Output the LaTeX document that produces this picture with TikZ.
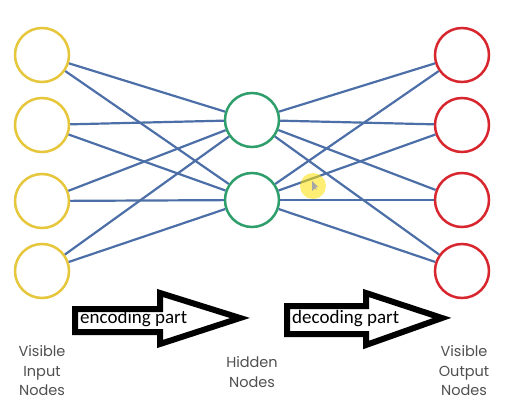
\documentclass[tikz,border=0pt]{standalone}
\usepackage{fontspec}
\newfontfamily\calib{Carlito}
\newfontfamily\labfont{Poppins}
\definecolor{inY}{HTML}{E6C63A}
\definecolor{hidG}{HTML}{2E9E6A}
\definecolor{outR}{HTML}{D8262E}
\definecolor{edgeB}{HTML}{4D6FA8}
\definecolor{labG}{HTML}{505050}
\tikzset{
  neuron/.style={circle,draw,line width=2.5pt,minimum size=54pt,inner sep=0pt,fill=white},
  innode/.style={neuron,draw=inY},
  hidnode/.style={neuron,draw=hidG},
  outnode/.style={neuron,draw=outR},
  edge/.style={draw=edgeB,line width=2.2pt},
  blockarrow/.style={draw=black,line width=6pt,fill=white,line join=miter},
  armtext/.style={font=\calib\fontsize{19}{21}\selectfont,inner sep=0pt,anchor=west},
  layerlab/.style={font=\labfont\fontsize{14.5}{19.5}\selectfont,text=labG,align=center,inner sep=1pt}
}
\begin{document}
\begin{tikzpicture}[x=1pt,y=-1pt]
\useasboundingbox (0,0) rectangle (528,401);
\fill[white] (0,0) rectangle (528,401);
\foreach \n/\y in {i1/55,i2/125,i3/201,i4/271}{\coordinate (c\n) at (42,\y);}
\foreach \n/\y in {h1/120,h2/200}{\coordinate (c\n) at (252,\y);}
\foreach \n/\y in {o1/55,o2/125,o3/200,o4/271}{\coordinate (c\n) at (462,\y);}
% nodes
\node[innode] (i1) at (ci1) {};
\node[innode] (i2) at (ci2) {};
\node[innode] (i3) at (ci3) {};
\node[innode] (i4) at (ci4) {};
\node[hidnode] (h1) at (ch1) {};
\node[hidnode] (h2) at (ch2) {};
\node[outnode] (o1) at (co1) {};
\node[outnode] (o2) at (co2) {};
\node[outnode] (o3) at (co3) {};
\node[outnode] (o4) at (co4) {};
\foreach \a in {i1,i2,i3,i4}{\foreach \b in {h1,h2}{\draw[edge] (\a) -- (\b);}}
\foreach \a in {h1,h2}{\foreach \b in {o1,o2,o3,o4}{\draw[edge] (\a) -- (\b);}}
% highlight
\fill[yellow!85!orange,opacity=0.55] (313,186) circle (13);
\fill[gray!70] (312,181) -- (312,191) -- (314.5,188.5) -- (317,190) -- (315.5,187.5) -- (318,187) -- cycle;
% block arrows
\draw[blockarrow] (75,309) -- (160,309) -- (160,293) -- (240,318) -- (160,344) -- (160,332) -- (75,332) -- cycle;
\node[armtext] (enc) at (80,319) {encoding part};
\draw[blockarrow] (287,306) -- (366,306) -- (366,293) -- (442,318) -- (366,345) -- (366,334) -- (287,334) -- cycle;
\node[armtext] (dec) at (292,319) {decoding part};
% labels
\node[layerlab] (lin) at (42,371) {Visible\\Input\\Nodes};
\node[layerlab] (lhid) at (252,372) {Hidden\\Nodes};
\node[layerlab] (lout) at (464,371) {Visible\\Output\\Nodes};
\end{tikzpicture}
\end{document}
